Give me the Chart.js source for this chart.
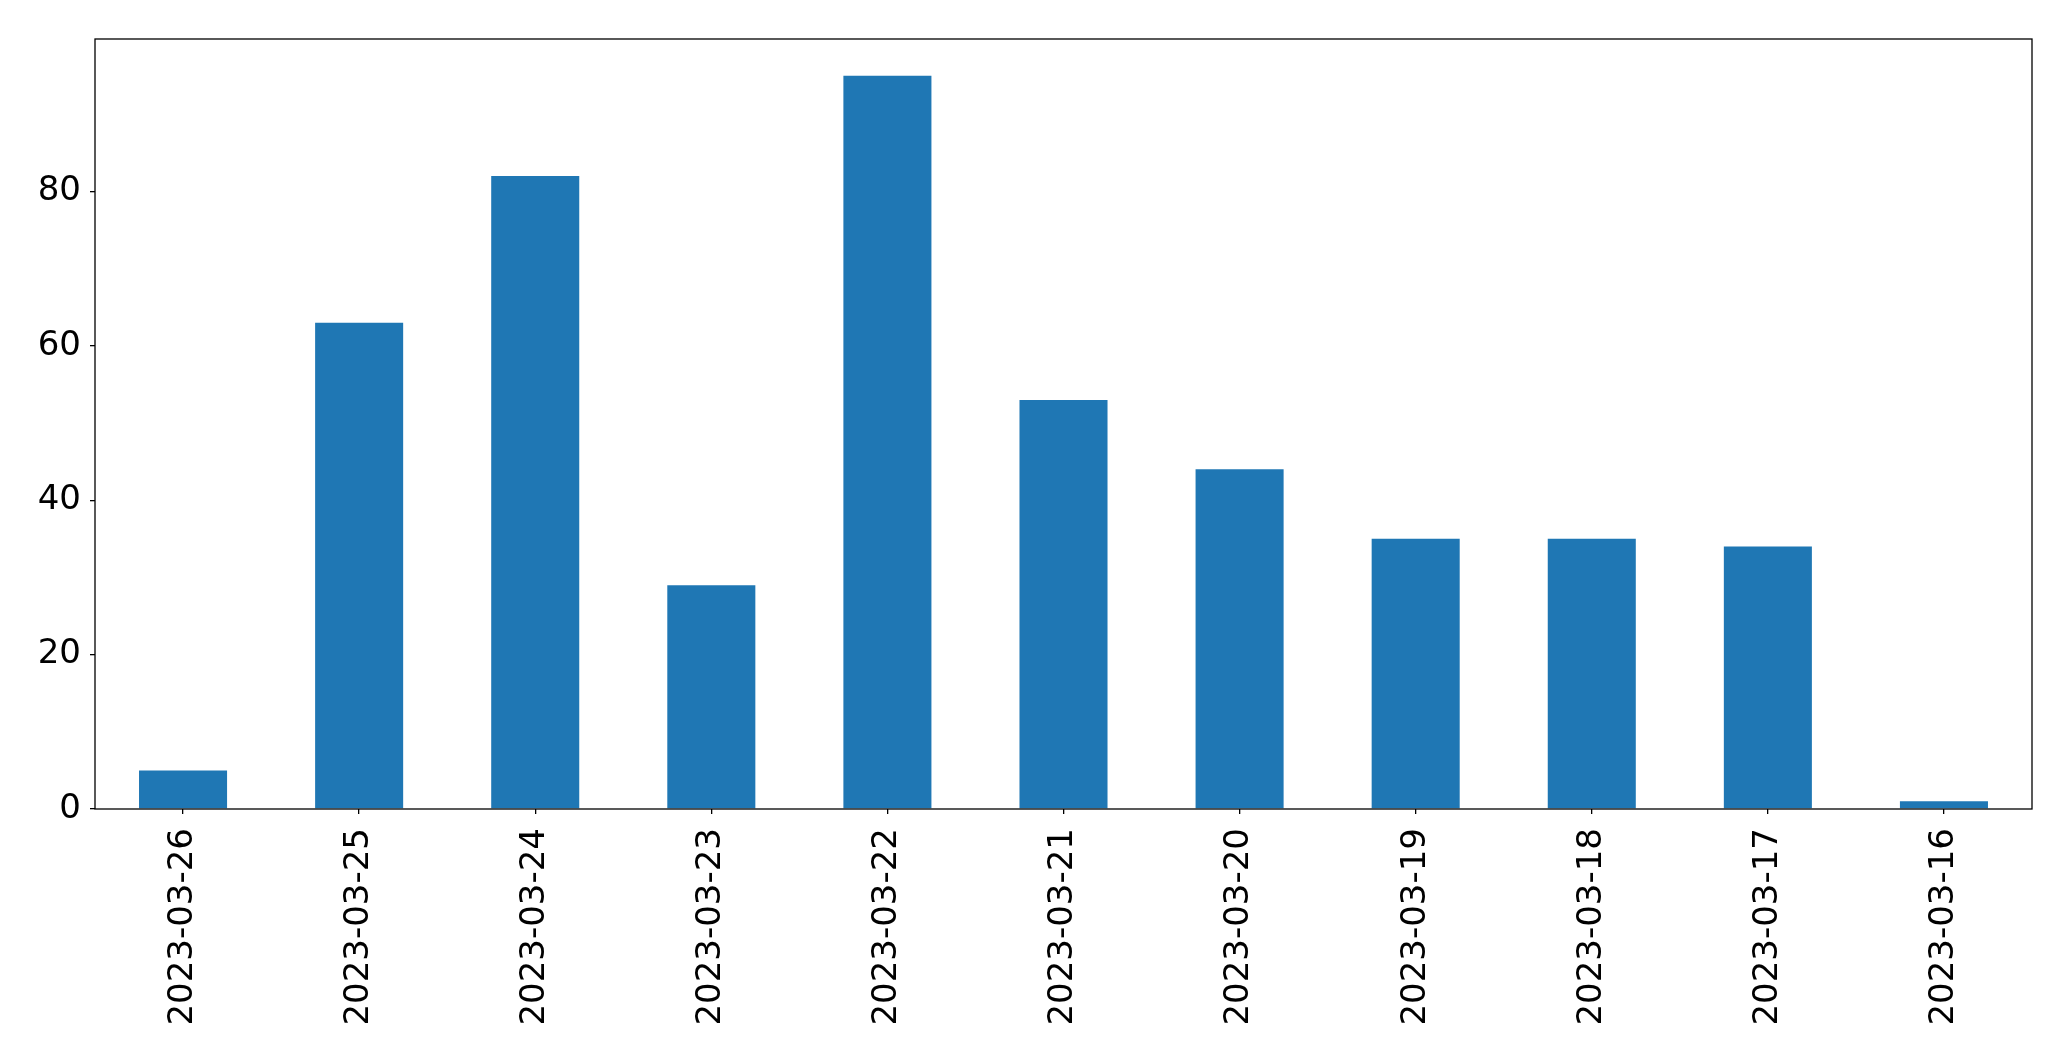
<!DOCTYPE html>
<html>
<head>
<meta charset="utf-8">
<script src="https://cdn.jsdelivr.net/npm/chart.js@4.4.0/dist/chart.umd.min.js"></script>
<style>
html,body{margin:0;padding:0;background:#fff;}
#wrap{width:2071px;height:1061px;position:relative;}
</style>
</head>
<body>
<div id="wrap"><canvas id="c" width="2071" height="1061"></canvas></div>
<script>
const categories = ["2023-03-26","2023-03-25","2023-03-24","2023-03-23","2023-03-22","2023-03-21","2023-03-20","2023-03-19","2023-03-18","2023-03-17","2023-03-16"];
const values = [5, 63, 82, 29, 95, 53, 44, 35, 35, 34, 1];
const yTicks = [0, 20, 40, 60, 80];

const boxPlugin = {
  id: 'box',
  afterDraw(chart) {
    const a = chart.chartArea, ctx = chart.ctx;
    ctx.save();
    ctx.strokeStyle = '#000';
    ctx.lineWidth = 1.3;
    ctx.strokeRect(a.left, a.top, a.right - a.left, a.bottom - a.top);
    ctx.restore();
  }
};

new Chart(document.getElementById('c'), {
  type: 'bar',
  data: {
    labels: categories,
    datasets: [{
      data: values,
      backgroundColor: '#1f77b4',
      borderWidth: 0,
      barPercentage: 0.5,
      categoryPercentage: 1.0
    }]
  },
  options: {
    responsive: false,
    animation: false,
    layout: { padding: { left: 0, right: 39, top: 39, bottom: 0 } },
    plugins: { legend: { display: false }, tooltip: { enabled: false } },
    scales: {
      x: {
        offset: true,
        grid: { display: true, offset: false, drawOnChartArea: false, drawTicks: true, tickLength: 5, color: '#000', lineWidth: 1.3 },
        border: { display: false },
        ticks: {
          minRotation: 90, maxRotation: 90, autoSkip: false,
          color: '#000', padding: 14,
          font: { family: 'DejaVu Sans', size: 34 }
        },
        afterFit(s) { s.height = 252; }
      },
      y: {
        min: 0, max: 99.75,
        grid: { display: true, drawOnChartArea: false, drawTicks: true, tickLength: 5, color: '#000', lineWidth: 1.3 },
        border: { display: false },
        afterBuildTicks(s) { s.ticks = yTicks.map(v => ({ value: v })); },
        ticks: {
          color: '#000', padding: 9,
          font: { family: 'DejaVu Sans', size: 34 }
        },
        afterFit(s) { s.width = 95; }
      }
    }
  },
  plugins: [boxPlugin]
});
</script>
</body>
</html>
